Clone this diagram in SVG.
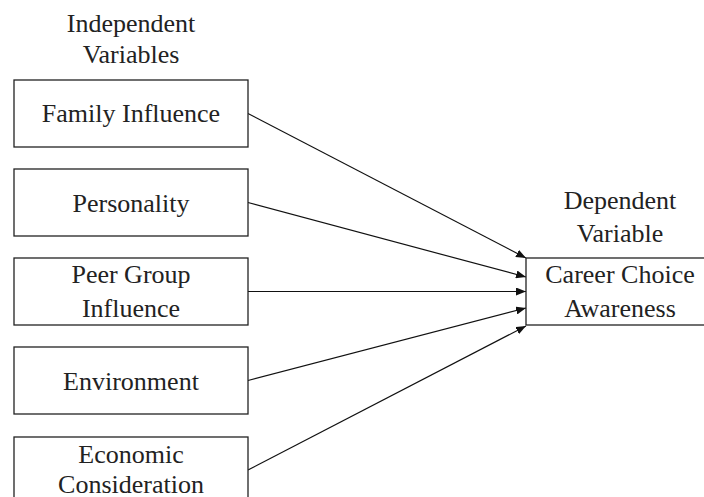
<svg xmlns="http://www.w3.org/2000/svg" width="704" height="497" viewBox="0 0 704 497">
<style>
.box{fill:#fff;stroke:#222;stroke-width:1.3}
.t{font-size:26px;fill:#222;text-anchor:middle}
.c{stroke:#111;stroke-width:1.2;fill:none;marker-end:url(#ah)}
</style>
<defs>
<marker id="ah" viewBox="0 0 10 8" refX="10" refY="4" markerWidth="10" markerHeight="8" markerUnits="userSpaceOnUse" orient="auto">
<path d="M0,0 L10,4 L0,8 Z" fill="#111"/>
</marker>
</defs>
<rect width="704" height="497" fill="#fff"/>
<g font-family="Liberation Serif, DejaVu Serif, Noto Serif, serif">
<g id="label-independent">
<text class="t" x="131" y="32">Independent</text>
<text class="t" x="131" y="63">Variables</text>
</g>
<g id="label-dependent">
<text class="t" x="620" y="209">Dependent</text>
<text class="t" x="620" y="242">Variable</text>
</g>
</g>
<g id="connectors">
<line class="c" x1="248" y1="113.5" x2="526" y2="258"/>
<line class="c" x1="248" y1="202.5" x2="526" y2="277"/>
<line class="c" x1="248" y1="291.5" x2="526" y2="291.5"/>
<line class="c" x1="248" y1="380.5" x2="526" y2="308"/>
<line class="c" x1="248" y1="470" x2="526" y2="326"/>
</g>
<g font-family="Liberation Serif, DejaVu Serif, Noto Serif, serif">
<g id="family-influence">
<rect class="box" x="14" y="80" width="234" height="67"/>
<text class="t" x="131" y="122">Family Influence</text>
</g>
<g id="personality">
<rect class="box" x="14" y="169" width="234" height="67"/>
<text class="t" x="131" y="212">Personality</text>
</g>
<g id="peer-group-influence">
<rect class="box" x="14" y="258" width="234" height="67"/>
<text class="t" x="131" y="283">Peer Group</text>
<text class="t" x="131" y="317">Influence</text>
</g>
<g id="environment">
<rect class="box" x="14" y="347" width="234" height="67"/>
<text class="t" x="131" y="390">Environment</text>
</g>
<g id="economic-consideration">
<rect class="box" x="14" y="437" width="234" height="67"/>
<text class="t" x="131" y="463">Economic</text>
<text class="t" x="131" y="493">Consideration</text>
</g>
<g id="career-choice-awareness">
<rect class="box" x="526" y="258" width="190" height="67"/>
<text class="t" x="620" y="283">Career Choice</text>
<text class="t" x="620" y="317">Awareness</text>
</g>
</g>
</svg>
